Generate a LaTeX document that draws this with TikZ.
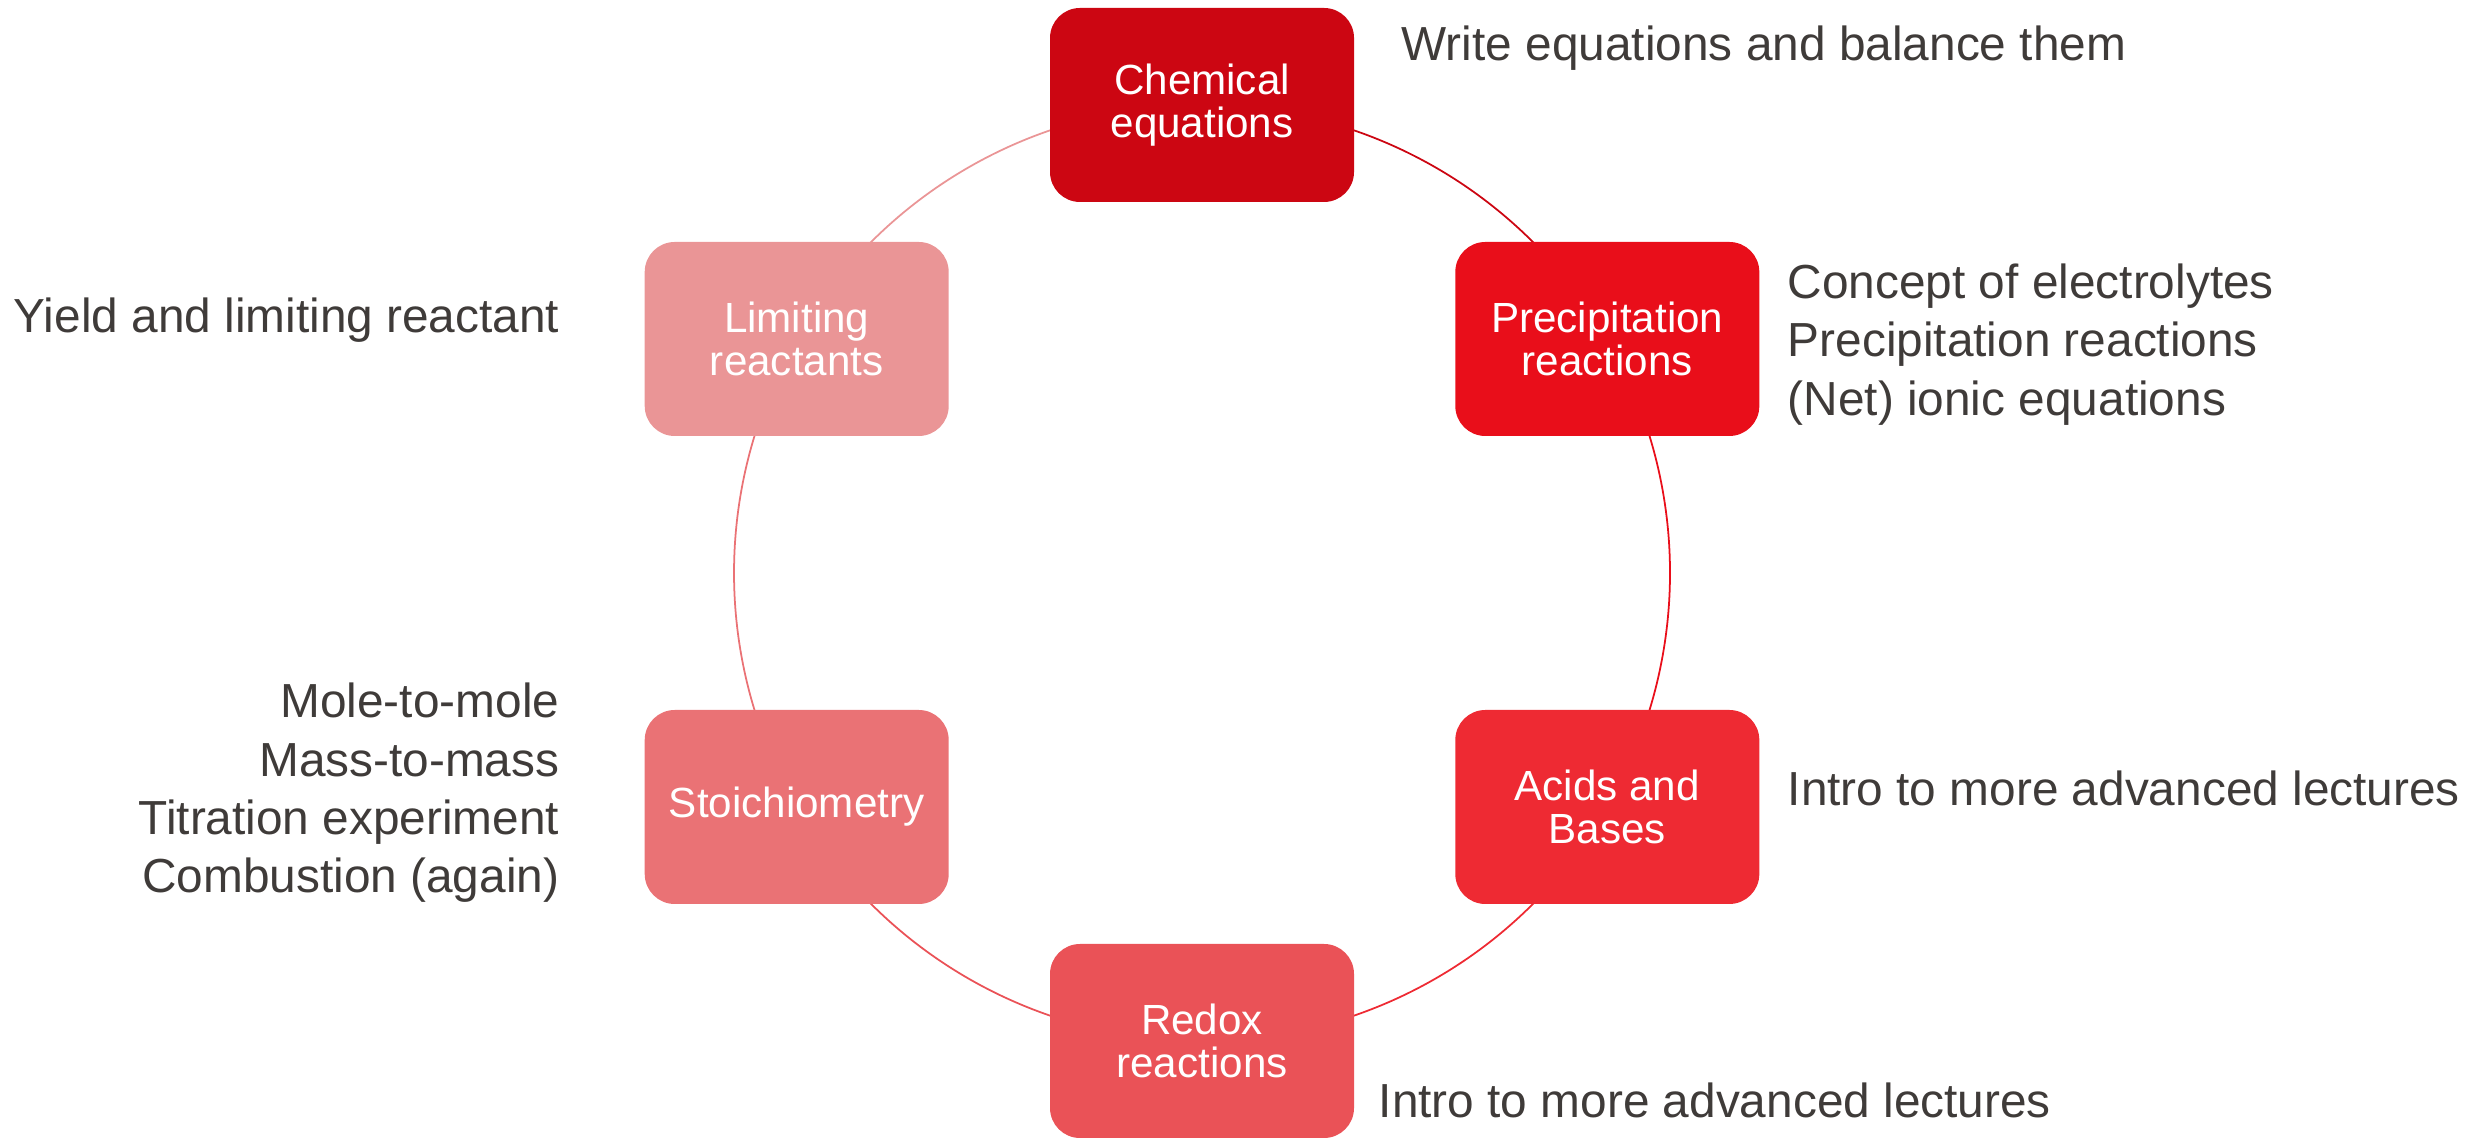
\documentclass[tikz,border=0pt]{standalone}
\usepackage{fontspec}
\setmainfont{Liberation Sans}
\usetikzlibrary{backgrounds}
\definecolor{chemred}{HTML}{CC0612}
\definecolor{precred}{HTML}{E90E1A}
\definecolor{acidred}{HTML}{EE2A33}
\definecolor{redoxred}{HTML}{EA5257}
\definecolor{stoired}{HTML}{EA7275}
\definecolor{limitred}{HTML}{EA9596}
\definecolor{notegray}{HTML}{3F3B39}
\tikzset{
  topic/.style={rectangle,rounded corners=0.3cm,minimum width=3.04cm,minimum height=1.94cm,
    text=white,align=center,inner sep=0pt,font=\fontsize{12}{12.4}\selectfont},
  notes/.style={text=notegray,inner sep=0pt,font=\fontsize{13.6}{16.6}\selectfont},
  ring/.style={line width=0.5pt}
}

\begin{document}
\begin{tikzpicture}
  \useasboundingbox (0,0) rectangle (24.69,11.38);
  \coordinate (ctr) at (12.02,5.65);

  % the six topics round the cycle
  \node[topic,fill=chemred] (chem) at ([shift={(ctr)}]90:4.68) {Chemical\\equations};
  \node[topic,fill=precred] (prec) at ([shift={(ctr)}]30:4.68) {Precipitation\\reactions};
  \node[topic,fill=acidred] (acid) at ([shift={(ctr)}]-30:4.68) {Acids and\\Bases};
  \node[topic,fill=redoxred] (redox) at ([shift={(ctr)}]-90:4.68) {Redox\\reactions};
  \node[topic,fill=stoired] (stoi) at ([shift={(ctr)}]-150:4.68) {Stoichiometry};
  \node[topic,fill=limitred] (limit) at ([shift={(ctr)}]150:4.68) {Limiting\\reactants};

  % notes beside the topics
  \node[notes,anchor=west] (chemnote) at (14.01,10.90) {Write equations and balance them};
  \node[notes,anchor=west,align=left] (precnote) at (17.87,7.935)
    {Concept of electrolytes\\Precipitation reactions\\(Net) ionic equations};
  \node[notes,anchor=west] (acidnote) at (17.87,3.495) {Intro to more advanced lectures};
  \node[notes,anchor=west] (redoxnote) at (13.78,0.375) {Intro to more advanced lectures};
  \node[notes,anchor=east,align=right] (stoinote) at (5.60,3.45)
    {Mole-to-mole\\Mass-to-mass\\Titration experiment\\Combustion (again)};
  \node[notes,anchor=east] (limitnote) at (5.60,8.18) {Yield and limiting reactant};

  % the ring, behind the boxes
  \begin{scope}[on background layer]
    \draw[ring,chemred] (chem.center) arc[start angle=90,end angle=30,radius=4.68];
    \draw[ring,precred] (prec.center) arc[start angle=30,end angle=-30,radius=4.68];
    \draw[ring,acidred] (acid.center) arc[start angle=-30,end angle=-90,radius=4.68];
    \draw[ring,redoxred] (redox.center) arc[start angle=-90,end angle=-150,radius=4.68];
    \draw[ring,stoired] (stoi.center) arc[start angle=210,end angle=150,radius=4.68];
    \draw[ring,limitred] (limit.center) arc[start angle=150,end angle=90,radius=4.68];
  \end{scope}
\end{tikzpicture}
\end{document}
